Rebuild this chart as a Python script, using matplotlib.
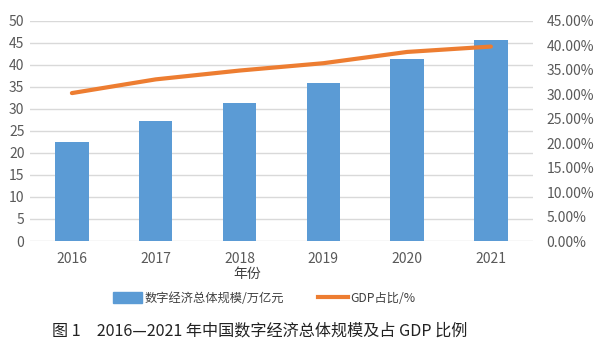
import matplotlib
matplotlib.use("Agg")
import matplotlib.pyplot as plt
from matplotlib.ticker import FuncFormatter, MultipleLocator
from matplotlib.lines import Line2D
from matplotlib.patches import Patch

plt.rcParams['font.family'] = ['Noto Sans CJK SC', 'DejaVu Sans']

years = ["2016", "2017", "2018", "2019", "2020", "2021"]
scale = [22.4, 27.2, 31.3, 35.8, 41.4, 45.5]
gdp_share = [30.2, 33.0, 34.8, 36.3, 38.6, 39.7]

bar_color = "#5B9BD5"
line_color = "#ED7D31"
tick_color = "#595959"

fig = plt.figure(figsize=(6, 3.55), dpi=100)
ax = fig.add_axes([0.05, 0.321, 0.838, 0.621])
ax2 = ax.twinx()

x = list(range(len(years)))
ax.bar(x, scale, width=0.4, color=bar_color, zorder=2)
ax2.plot(x, [v / 100 for v in gdp_share], color=line_color, lw=3,
         solid_capstyle='round', solid_joinstyle='round', zorder=3)

ax.set_xlim(-0.5, len(years) - 0.5)
ax.set_ylim(0, 50)
ax2.set_ylim(0, 0.45)
ax.yaxis.set_major_locator(MultipleLocator(5))
ax2.yaxis.set_major_locator(MultipleLocator(0.05))
ax2.yaxis.set_major_formatter(FuncFormatter(lambda v, p: f"{v*100:.2f}%"))
ax.grid(axis='y', color="#D9D9D9", lw=1, zorder=0)
ax.set_axisbelow(True)

for a in (ax, ax2):
    for s in a.spines.values():
        s.set_visible(False)
    a.tick_params(length=0, labelsize=10, colors=tick_color)

ax.set_xticks(x)
ax.set_xticklabels(years)
ax.tick_params(axis='x', pad=8)
ax.tick_params(axis='y', pad=4)
ax2.tick_params(axis='y', pad=10)

fig.text(0.412, 0.228, "年份", ha='center', va='center', fontsize=10, color="#404040")

handles = [Patch(color=bar_color), Line2D([0], [0], color=line_color, lw=3)]
labels = ["数字经济总体规模/万亿元", "GDP占比/%"]
fig.legend(handles, labels, loc='center', bbox_to_anchor=(0.44, 0.16), ncol=2,
           frameon=False, fontsize=8.8, handlelength=2.4, handleheight=0.9,
           columnspacing=2.8, handletextpad=0.2, labelcolor="#404040")

fig.text(0.433, 0.068, "图 1　2016—2021 年中国数字经济总体规模及占 GDP 比例",
         ha='center', va='center', fontsize=11.6, color="#222222")

fig.savefig("out.png", dpi=100, facecolor='white')
